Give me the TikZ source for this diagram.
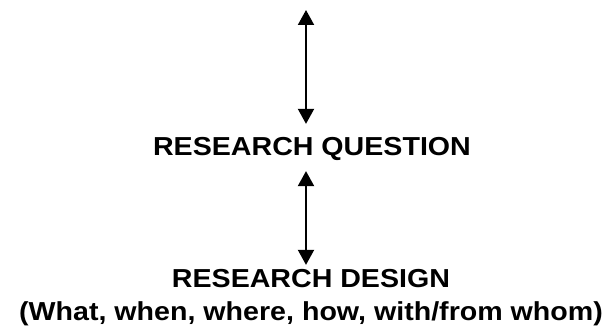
\documentclass[tikz,border=0pt]{standalone}
\usepackage{fontspec}
\setmainfont{Liberation Sans}
\usetikzlibrary{arrows.meta}

\tikzset{
  title/.style={font=\bfseries\fontsize{26}{30}\selectfont, inner sep=0pt, outer sep=0pt,
    anchor=base, xscale=1.1, transform shape},
  link/.style={line width=2pt,
    {Triangle[width=16pt,length=15pt]}-{Triangle[width=16pt,length=15pt]}}
}

\begin{document}
\begin{tikzpicture}[x=1pt,y=-1pt]
  \useasboundingbox (0,0) rectangle (614,329);

  \coordinate (top) at (306,10);
  \node[title] (question) at (312,156) {RESEARCH QUESTION};
  \node[title] (design)   at (311,287) {RESEARCH DESIGN};
  \node[title] (scope)    at (311,320) {(What, when, where, how, with/from whom)};

  % arrows
  \draw[link, shorten >=14pt] (top) -- (top |- question.north);
  \draw[link, shorten <=10pt, shorten >=4pt] (top |- question.south) -- (top |- design.north);

\end{tikzpicture}
\end{document}
